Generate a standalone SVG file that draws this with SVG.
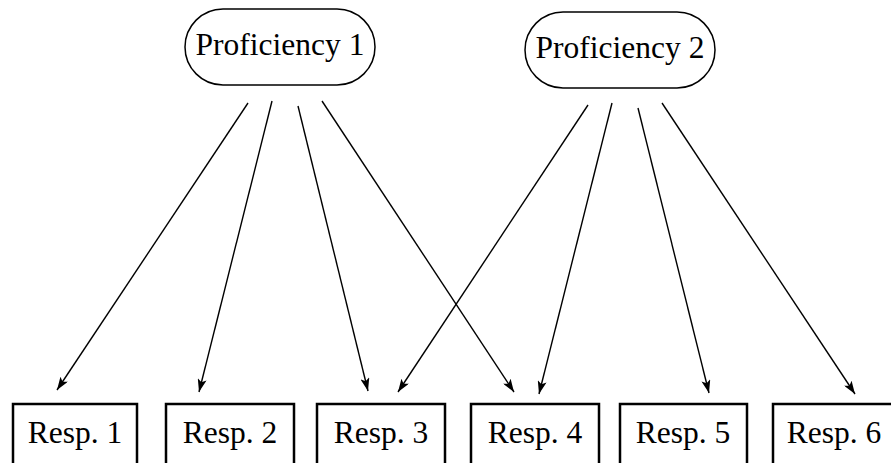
<svg xmlns="http://www.w3.org/2000/svg" width="891" height="463" viewBox="0 0 891 463">
<style>
.node{fill:#fff;stroke:#000;stroke-width:1.5}
.box{fill:#fff;stroke:#000;stroke-width:2.5}
.t{font-family:"Liberation Serif","Times New Roman",serif;font-size:31.5px;fill:#000;text-anchor:middle}
.e{stroke:#000;stroke-width:1.4;fill:none;marker-end:url(#ah)}
</style>
<defs>
<marker id="ah" markerWidth="14" markerHeight="9" refX="13" refY="4.5" orient="auto" markerUnits="userSpaceOnUse">
<path d="M0,0 L13,4.5 L0,9 L3,4.5 Z" fill="#000"/>
</marker>
</defs>
<g id="prof1">
<rect class="node" x="185" y="9" width="190" height="76" rx="38" ry="38"/>
<text class="t" x="280" y="55">Proficiency 1</text>
</g>
<g id="prof2">
<rect class="node" x="525" y="12" width="190" height="76" rx="38" ry="38"/>
<text class="t" x="620" y="58">Proficiency 2</text>
</g>
<g id="resp1"><rect class="box" x="13" y="404" width="124" height="64"/><text class="t" x="75" y="443">Resp. 1</text></g>
<g id="resp2"><rect class="box" x="166" y="404" width="128" height="64"/><text class="t" x="230" y="443">Resp. 2</text></g>
<g id="resp3"><rect class="box" x="317" y="404" width="128" height="64"/><text class="t" x="381" y="443">Resp. 3</text></g>
<g id="resp4"><rect class="box" x="471" y="404" width="128" height="64"/><text class="t" x="535" y="443">Resp. 4</text></g>
<g id="resp5"><rect class="box" x="620" y="404" width="127" height="64"/><text class="t" x="683" y="443">Resp. 5</text></g>
<g id="resp6"><rect class="box" x="773" y="404" width="128" height="64"/><text class="t" x="834" y="443">Resp. 6</text></g>
<g id="connectors">
<line class="e" x1="248" y1="103" x2="57" y2="390"/>
<line class="e" x1="272" y1="101" x2="199" y2="392"/>
<line class="e" x1="298" y1="106" x2="368" y2="391"/>
<line class="e" x1="322" y1="101" x2="514" y2="392"/>
<line class="e" x1="588" y1="105" x2="398" y2="392"/>
<line class="e" x1="612" y1="103" x2="539" y2="394"/>
<line class="e" x1="638" y1="108" x2="709" y2="393"/>
<line class="e" x1="662" y1="103" x2="855" y2="394"/>
</g>
</svg>
